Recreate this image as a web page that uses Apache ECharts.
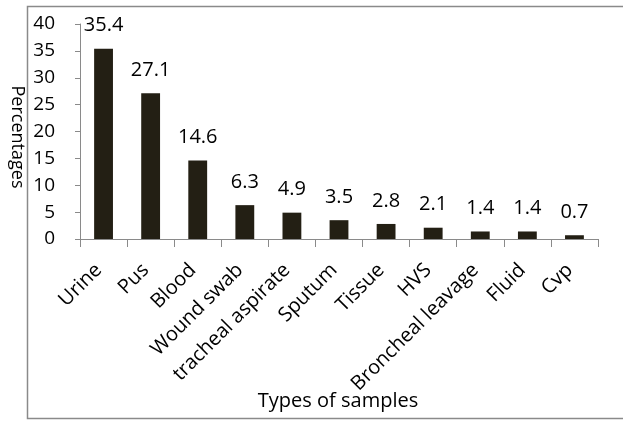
<!DOCTYPE html>
<html><head><meta charset="utf-8">
<script src="https://cdn.jsdelivr.net/npm/echarts@6/dist/echarts.min.js"></script>
<style>html,body{margin:0;padding:0;background:#fff}#c{width:623px;height:422px}</style>
</head><body><div id="c"></div>
<script>
const categories = ['Urine','Pus','Blood','Wound swab','tracheal aspirate','Sputum','Tissue','HVS','Broncheal leavage','Fluid','Cvp'];
const values = [35.4,27.1,14.6,6.3,4.9,3.5,2.8,2.1,1.4,1.4,0.7];
const yTicks = {min:0,max:40,interval:5};
const FONT = '"Open Sans", sans-serif';
const chart = echarts.init(document.getElementById('c'), null, {renderer:'canvas'});
chart.setOption({
  animation:false,
  grid:{left:80,right:25,top:24,bottom:183,containLabel:false},
  graphic:[{type:'rect',shape:{x:27.5,y:6.5,width:620,height:412},style:{fill:null,stroke:'#8a8a8a',lineWidth:1.5},z:-1},
    {type:'text',x:338,y:401,style:{text:'Types of samples',font:'20px '+FONT,fill:'#000',align:'center',verticalAlign:'middle'}},
    {type:'text',x:17,y:137,rotation:-Math.PI/2,style:{text:'Percentages',font:'18px '+FONT,fill:'#000',align:'center',verticalAlign:'middle'}}],
  xAxis:{type:'category',data:categories,
    axisLine:{lineStyle:{color:'#8a8a8a',width:1}},
    axisTick:{show:true,length:8,lineStyle:{color:'#8a8a8a'},alignWithLabel:false},
    axisLabel:{rotate:45,interval:0,fontSize:20,fontFamily:FONT,color:'#000',margin:23,padding:[0,7,0,0]}},
  yAxis:{type:'value',min:yTicks.min,max:yTicks.max,interval:yTicks.interval,
    axisLine:{show:true,lineStyle:{color:'#8a8a8a'}},
    axisTick:{show:true,length:5,lineStyle:{color:'#8a8a8a'}},
    splitLine:{show:false},
    axisLabel:{fontSize:19,fontFamily:FONT,color:'#000',margin:25}},
  series:[{type:'bar',data:values,barWidth:'40%',itemStyle:{color:'#231f14'},
    label:{show:true,position:'top',distance:13,fontSize:20,fontFamily:FONT,color:'#000'}}]
});
</script></body></html>
